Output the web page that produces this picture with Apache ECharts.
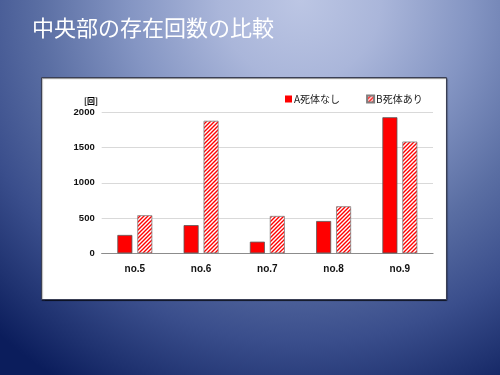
<!DOCTYPE html>
<html><head><meta charset="utf-8">
<script src="https://cdn.jsdelivr.net/npm/echarts@6/dist/echarts.min.js"></script>
<style>
html,body{margin:0;padding:0;width:500px;height:375px;overflow:hidden;}
body{background:radial-gradient(ellipse 90% 120% at 60% 0%, #bcc6e4 0%, #aab6da 18%, #8495c3 38%, #5a6ea3 58%, #3a4e8c 76%, #1f3270 90%, #0b1d5c 100%);}
#c{width:500px;height:375px;}
</style></head><body><div id="c"></div>
<script>
const categories = ['no.5','no.6','no.7','no.8','no.9'];
const seriesA = [260, 400, 165, 458, 1930];
const seriesB = [540, 1880, 530, 667, 1585];
const yTicks = [0, 500, 1000, 1500, 2000];
const nameA = 'A死体なし';
const nameB = 'B死体あり';
const titleText = '中央部の存在回数の比較';

const pc = document.createElement('canvas');
pc.width = 4; pc.height = 4;
const ctx = pc.getContext('2d');
ctx.fillStyle = '#ffffff'; ctx.fillRect(0,0,4,4);
ctx.strokeStyle = '#ff0000'; ctx.lineWidth = 1.4;
ctx.beginPath();
ctx.moveTo(-1,5); ctx.lineTo(5,-1);
ctx.moveTo(-1,1); ctx.lineTo(1,-1);
ctx.moveTo(3,5); ctx.lineTo(5,3);
ctx.stroke();
const hatch = {image: pc, repeat: 'repeat'};

const chart = echarts.init(document.getElementById('c'), null, {renderer:'canvas'});
chart.setOption({
  animation:false,
  backgroundColor:'transparent',
  graphic:[
    {type:'rect', z:-10, shape:{x:41.5,y:77.5,width:405,height:222},
     style:{fill:'#ffffff', stroke:'#3a3f55', lineWidth:1, shadowColor:'rgba(0,0,0,0.5)', shadowOffsetX:0.5, shadowOffsetY:1, shadowBlur:1}},
    {type:'text', left:32, top:17, style:{text:titleText, fill:'#ffffff', font:'22px "Noto Sans CJK JP"'}},
    {type:'text', left:84, top:97, style:{text:'[回]', fill:'#000', font:'bold 8px "Noto Sans CJK JP"'}}
  ],
  legend:{
    top:89, left:280, itemWidth:7, itemHeight:7, itemGap:26,
    textStyle:{fontFamily:'"Noto Sans CJK JP"', fontSize:10, color:'#222', padding:[0,0,0,-3]},
    data:[{name:nameA, icon:'rect', itemStyle:{borderWidth:0}},{name:nameB, icon:'rect'}]
  },
  grid:{left:101.7, right:67, top:112.3, bottom:121.7},
  xAxis:{
    type:'category', data:categories,
    axisLine:{lineStyle:{color:'#8c8c8c', width:1.2}},
    axisTick:{show:false},
    axisLabel:{color:'#111', fontWeight:'bold', fontSize:10, fontFamily:'"Liberation Sans", Arial', margin:11}
  },
  yAxis:{
    type:'value', min:0, max:2000, interval:500,
    axisLine:{show:false}, axisTick:{show:false},
    splitLine:{lineStyle:{color:'#d9d9d9', width:1}},
    axisLabel:{color:'#111', fontWeight:'bold', fontSize:9.5, fontFamily:'"Liberation Sans", Arial', margin:7,
      formatter:function(v){return yTicks.indexOf(v)>=0?String(v):'';}}
  },
  series:[
    {name:nameA, type:'bar', data:seriesA, barWidth:15, barGap:'33%',
     itemStyle:{color:'#ff0000', borderColor:'#595959', borderWidth:0.8}},
    {name:nameB, type:'bar', data:seriesB, barWidth:15,
     itemStyle:{color:hatch, borderColor:'#7f7f7f', borderWidth:0.8}}
  ]
});
</script></body></html>
